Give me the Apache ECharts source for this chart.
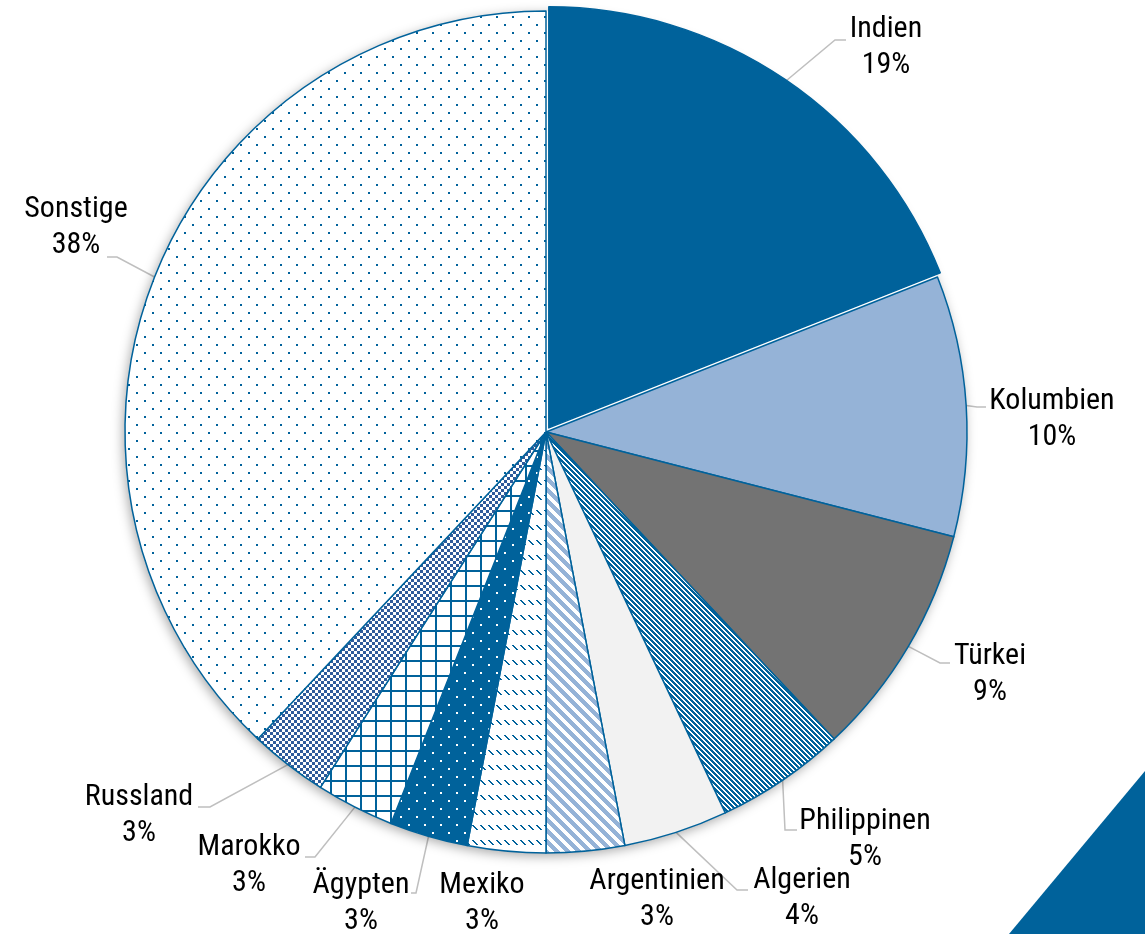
<!DOCTYPE html>
<html>
<head>
<meta charset="utf-8">
<script src="https://cdn.jsdelivr.net/npm/echarts/dist/echarts.min.js"></script>
<style>
  html, body { margin: 0; padding: 0; background: #ffffff; }
  #chart { width: 1145px; height: 934px; }
</style>
</head>
<body>
<div id="chart"></div>
<script>
// Anteile nach Herkunftsland (in Prozent)
const countries = ['Indien', 'Kolumbien', 'Türkei', 'Philippinen', 'Algerien', 'Argentinien',
                   'Mexiko', 'Ägypten', 'Marokko', 'Russland', 'Sonstige'];
const shares = [19, 10, 9, 5, 4, 3, 3, 3, 3, 3, 38];

const BLUE = '#00629B';
const LIGHT_BLUE = '#95B3D7';
const FONT = "'Roboto Condensed', Roboto, 'DejaVu Sans Condensed', sans-serif";

const CENTER = [546, 432];
const RADIUS = 421;
const EXPLODE = 5;   // pull-out distance of the first slice

// Label placement (block centre) and leader-line elbow/end for each slice
const labelSpots = [
  { pos: [886, 47],   line: [[835, 40], [846, 40]] },
  { pos: [1052, 419], line: [[977, 407], [986, 407]] },
  { pos: [990, 674],  line: [[940, 663], [950, 663]] },
  { pos: [865, 839],  line: [[785, 830], [797, 830]] },
  { pos: [802, 898],  line: [[737, 890], [748, 890]] },
  { pos: [657, 899],  line: null },
  { pos: [482, 903],  line: null },
  { pos: [361, 903],  line: [[416, 893], [411, 893]] },
  { pos: [249, 865],  line: [[315, 857], [305, 857]] },
  { pos: [139, 815],  line: [[210, 807], [198, 807]] },
  { pos: [76, 227],   line: [[117, 257], [107, 257]] }
];

// --- fill patterns -------------------------------------------------------
function tile(w, h, paint) {
  const c = document.createElement('canvas');
  c.width = w; c.height = h;
  const g = c.getContext('2d');
  paint(g, w, h);
  return c;
}
function pattern(canvas) { return { image: canvas, repeat: 'repeat' }; }

// downward diagonal stripes
function stripes(p, on, fg, bg) {
  return tile(p, p, (g) => {
    g.fillStyle = bg; g.fillRect(0, 0, p, p);
    g.fillStyle = fg;
    for (let y = 0; y < p; y++)
      for (let x = 0; x < p; x++)
        if ((((x - y) % p) + p) % p < on) g.fillRect(x, y, 1, 1);
  });
}
// staggered dots
function dots(p, size, fg, bg) {
  return tile(p, p, (g) => {
    g.fillStyle = bg; g.fillRect(0, 0, p, p);
    g.fillStyle = fg;
    g.fillRect(0, 0, size, size);
    g.fillRect(p / 2, p / 2, size, size);
  });
}
// square grid
function grid(p, lw, fg, bg) {
  return tile(p, p, (g) => {
    g.fillStyle = bg; g.fillRect(0, 0, p, p);
    g.fillStyle = fg;
    g.fillRect(0, 0, p, lw);
    g.fillRect(0, 0, lw, p);
  });
}
// checkerboard
function checks(s, fg, bg) {
  return tile(2 * s, 2 * s, (g) => {
    g.fillStyle = bg; g.fillRect(0, 0, 2 * s, 2 * s);
    g.fillStyle = fg;
    g.fillRect(0, 0, s, s);
    g.fillRect(s, s, s, s);
  });
}
// rows of short diagonal dashes
function dashedDiag(fg, bg) {
  return tile(8, 15, (g) => {
    g.fillStyle = bg; g.fillRect(0, 0, 8, 15);
    g.fillStyle = fg;
    for (let k = 0; k < 5; k++) g.fillRect(k, k, 2, 1);
  });
}

const fills = [
  BLUE,
  LIGHT_BLUE,
  '#737373',
  pattern(stripes(5, 3, BLUE, '#ffffff')),
  '#F2F2F2',
  pattern(stripes(11, 6, LIGHT_BLUE, '#ffffff')),
  pattern(dashedDiag(BLUE, '#ffffff')),
  pattern(dots(16, 2, '#ffffff', BLUE)),
  pattern(grid(15, 2, BLUE, '#ffffff')),
  pattern(checks(3, '#2F5B9B', '#ffffff')),
  pattern(dots(16, 2, BLUE, '#ffffff'))
];

const HIDDEN = { color: 'rgba(0,0,0,0)', borderWidth: 0 };

// main pie: every slice except the pulled-out first one, plus all labels
const pieData = countries.map((name, i) => {
  const item = {
    name: name,
    value: shares[i],
    itemStyle: i === 0 ? HIDDEN : { color: fills[i] }
  };
  if (!labelSpots[i].line) item.labelLine = { show: false };
  return item;
});

// pulled-out pie: only the first slice is painted
const explodedData = countries.map((name, i) => ({
  name: name,
  value: shares[i],
  itemStyle: i === 0 ? { color: fills[0] } : HIDDEN
}));

// shift of the pulled-out slice along its middle angle
const total = shares.reduce((a, b) => a + b, 0);
const midAngle = (shares[0] / 2 / total) * 2 * Math.PI;
const explodedCenter = [CENTER[0] + EXPLODE * Math.sin(midAngle),
                        CENTER[1] - EXPLODE * Math.cos(midAngle)];

const chart = echarts.init(document.getElementById('chart'), null, { renderer: 'canvas' });

chart.setOption({
  animation: false,
  backgroundColor: '#ffffff',
  graphic: [{
    type: 'polygon',
    silent: true,
    shape: { points: [[1145, 771], [1009, 934], [1145, 934]] },
    style: { fill: BLUE }
  }],
  series: [
    {
      // soft drop shadow beneath the pie
      type: 'pie',
      silent: true,
      center: CENTER,
      radius: RADIUS,
      label: { show: false },
      labelLine: { show: false },
      emphasis: { disabled: true },
      itemStyle: {
        color: '#ffffff',
        shadowBlur: 12,
        shadowColor: 'rgba(0,0,0,0.35)',
        shadowOffsetX: -2,
        shadowOffsetY: 3
      },
      data: [{ value: 1, name: '' }]
    },
    {
      type: 'pie',
      silent: true,
      center: explodedCenter,
      radius: RADIUS,
      startAngle: 90,
      clockwise: true,
      emphasis: { disabled: true },
      itemStyle: { borderColor: BLUE, borderWidth: 1.5 },
      label: { show: false },
      labelLine: { show: false },
      data: explodedData
    },
    {
      type: 'pie',
      center: CENTER,
      radius: RADIUS,
      startAngle: 90,
      clockwise: true,
      avoidLabelOverlap: false,
      emphasis: { disabled: true },
      itemStyle: { borderColor: BLUE, borderWidth: 1.5 },
      label: {
        show: true,
        position: 'outside',
        formatter: (p) => p.name + '\n' + p.value + '%',
        fontFamily: FONT,
        fontWeight: 'condensed',
        fontSize: 30,
        lineHeight: 36,
        color: '#000000'
      },
      labelLine: {
        show: true,
        lineStyle: { color: '#BFBFBF', width: 1.5 }
      },
      labelLayout: function (p) {
        const s = labelSpots[p.dataIndex];
        const out = { x: s.pos[0], y: s.pos[1], align: 'center', verticalAlign: 'middle' };
        if (s.line && p.labelLinePoints) {
          out.labelLinePoints = [p.labelLinePoints[0], s.line[0], s.line[1]];
        }
        return out;
      },
      data: pieData
    }
  ]
});
</script>
</body>
</html>
